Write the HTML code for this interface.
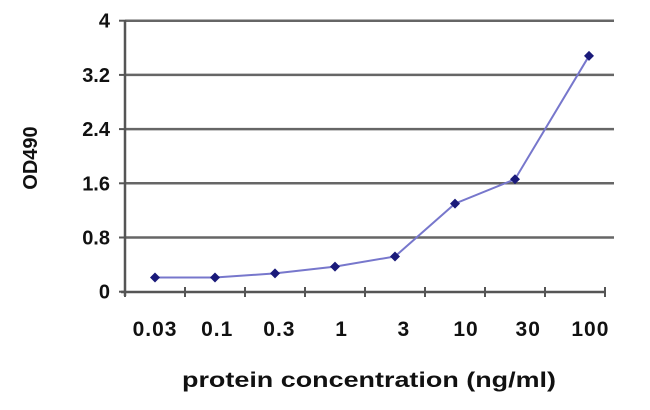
<!DOCTYPE html>
<html><head><style>
body{margin:0;background:#fff;}
svg text{font-family:"Liberation Sans",Arial,sans-serif;font-weight:bold;fill:#111;}
</style></head><body>
<svg width="650" height="405" id="c">
<g id="grid"></g>
<line x1="125" y1="20" x2="125" y2="296" stroke="#555" stroke-width="2.5"/>
<line x1="121" y1="292" x2="604" y2="292" stroke="#555" stroke-width="2.5"/>
<g id="marks"></g>
<text x="182" y="387" font-size="21" textLength="374" lengthAdjust="spacingAndGlyphs">protein concentration (ng/ml)</text>
<text transform="translate(37,158) rotate(-90)" font-size="20" text-anchor="middle">OD490</text>
</svg>
<script>
const categories=["0.03","0.1","0.3","1","3","10","30","100"];
const values=[0.21,0.21,0.27,0.37,0.52,1.30,1.66,3.48];
const yTicks=[0,0.8,1.6,2.4,3.2,4];
const yTickLabels=["0","0.8","1.6","2.4","3.2","4"];
const NS="http://www.w3.org/2000/svg";
const y=v=>291.7-v*67.75;
const x=i=>155+i*60+(i==7?14:0);
const lx=i=>155+i*62.2;
function mk(t,a,p){const e=document.createElementNS(NS,t);for(const k in a)e.setAttribute(k,a[k]);p.appendChild(e);return e;}
const g=document.getElementById('grid'),m=document.getElementById('marks');
yTicks.forEach((v,i)=>{
 if(v>0){const l=mk('line',{x1:125,x2:614,y1:y(v),y2:y(v),stroke:'#666','stroke-width':2.5},g);
 
 }
 const tk=mk('line',{x1:119,x2:125,y1:y(v),y2:y(v),stroke:'#555','stroke-width':2},g);
 
 
 const t=mk('text',{x:110,y:y(v)+7,'font-size':20,'text-anchor':'end'},g);t.textContent=yTickLabels[i];
 
 
});
for(let i=0;i<=categories.length;i++){
 const tk=mk('line',{x1:125+i*60,x2:125+i*60,y1:287,y2:297,stroke:'#555','stroke-width':2},g);
 
 
}
categories.forEach((c,i)=>{
 const t=mk('text',{x:lx(i),y:336,'font-size':21,'text-anchor':'middle','letter-spacing':1},g);t.textContent=c;
 
 
});
const pts=values.map((v,i)=>[x(i),y(v)]);
const pl=mk('polyline',{points:pts.map(p=>p.join(',')).join(' '),fill:'none',stroke:'#7777cc','stroke-width':2},m);


pts.forEach(p=>{
 const d=mk('path',{d:`M${p[0]},${p[1]-5}L${p[0]+5},${p[1]}L${p[0]},${p[1]+5}L${p[0]-5},${p[1]}Z`,fill:'#1a1a7a'},m);
 
 
});
</script>
</body></html>
